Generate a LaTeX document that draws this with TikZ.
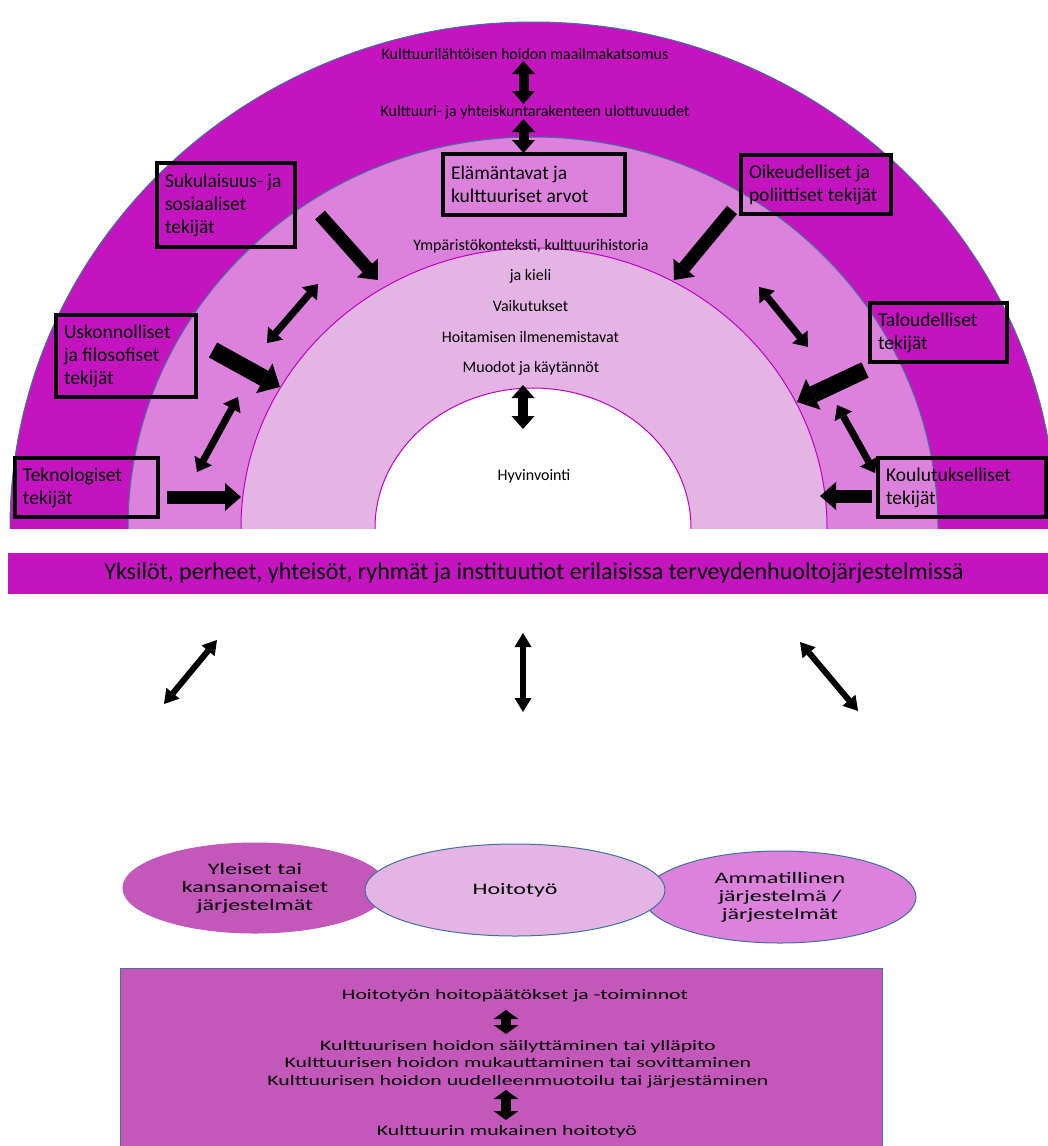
\documentclass[tikz,border=0pt]{standalone}
\usepackage{fontspec}
\setmainfont{Carlito}
\newfontfamily\widefont{Carlito}[FakeStretch=1.5]
\usetikzlibrary{arrows.meta,positioning,shapes.geometric}
\definecolor{Outer}{HTML}{C414C0}
\definecolor{Middle}{HTML}{DC82DC}
\definecolor{Inner}{HTML}{E4B5E4}
\definecolor{Plum}{HTML}{C457BA}
\definecolor{Edge}{HTML}{41719C}
\definecolor{Rim}{HTML}{BF00BF}

\begin{document}
\begin{tikzpicture}[x=1pt,y=-1pt,archtext/.style={anchor=base,inner sep=1pt,font=\fontsize{16}{19}\selectfont},factor/.style={draw=black,line width=3.5pt,align=flush left,inner xsep=8pt,font=\fontsize{19.5}{23}\selectfont},system/.style={ellipse,draw=Edge,line width=1pt,align=center,inner sep=0pt,font=\widefont\fontsize{16}{18}\selectfont},caretext/.style={anchor=base,inner sep=1pt,align=center,font=\widefont\fontsize{14.5}{17.6}\selectfont},fatarrow/.style={draw=black,line width=13pt,-{Triangle[length=16pt,width=28pt,line width=0pt]}},heavyarrow/.style={draw=black,line width=17pt,-{Triangle[length=18pt,width=34pt,line width=0pt]}},linkarrow/.style={draw=black,line width=7pt,{Triangle[length=13pt,width=20pt,line width=0pt]}-{Triangle[length=13pt,width=20pt,line width=0pt]}},stemarrow/.style={draw=black,line width=10pt,{Triangle[length=13pt,width=23pt,line width=0pt]}-{Triangle[length=13pt,width=23pt,line width=0pt]}},shortarrow/.style={draw=black,line width=10pt,{Triangle[length=9pt,width=25pt,line width=0pt]}-{Triangle[length=9pt,width=25pt,line width=0pt]}},slimarrow/.style={draw=black,line width=6pt,{Triangle[length=14pt,width=17pt,line width=0pt]}-{Triangle[length=14pt,width=17pt,line width=0pt]}}]
\useasboundingbox (0,0) rectangle (1048,1146);
\fill[white] (0,0) rectangle (1048,1146);
\begin{scope}
\clip (0,0) rectangle (1048,528);
\filldraw[fill=Outer,draw=Edge,line width=1pt] (533,528) ellipse[x radius=523,y radius=506];
\filldraw[fill=Middle,draw=Edge,line width=1pt] (533,528) ellipse[x radius=405,y radius=391];
\filldraw[fill=Inner,draw=Rim,line width=1pt] (534,528) ellipse[x radius=293,y radius=280];
\filldraw[fill=white,draw=Rim,line width=1pt] (533,528) ellipse[x radius=158,y radius=140];
\end{scope}
\node[archtext] (worldview) at (525,59) {Kulttuurilähtöisen hoidon maailmakatsomus};
\node[archtext] (dimensions) at (535,116) {Kulttuuri- ja yhteiskuntarakenteen ulottuvuudet};
\node[archtext] (context) at (531,250) {Ympäristökonteksti, kulttuurihistoria};
\node[archtext] (language) at (530.5,280) {ja kieli};
\node[archtext] (influence) at (530.5,311) {Vaikutukset};
\node[archtext] (expression) at (530.5,342) {Hoitamisen ilmenemistavat};
\node[archtext] (patterns) at (531,372) {Muodot ja käytännöt};
\node[archtext] (wellbeing) at (534,480) {Hyvinvointi};
\node[factor,text width=166pt,minimum height=61pt] (lifestyle) at (534,184.5) {Elämäntavat ja\\kulttuuriset arvot};
\node[factor,text width=122pt,minimum height=84pt] (kinship) at (226,205) {Sukulaisuus- ja\\sosiaaliset\\tekijät};
\node[factor,text width=124pt,minimum height=82pt] (religion) at (126,356) {Uskonnolliset\\ja filosofiset\\tekijät};
\node[factor,text width=127pt,minimum height=59pt] (technology) at (86.5,487.5) {Teknologiset\\tekijät};
\node[factor,text width=134pt,minimum height=59pt] (legal) at (816,184.5) {Oikeudelliset ja\\poliittiset tekijät};
\node[factor,text width=121pt,minimum height=59pt] (economic) at (938.5,332.5) {Taloudelliset\\tekijät};
\node[factor,text width=152pt,minimum height=59pt] (education) at (962,487.5) {Koulutukselliset\\tekijät};
\coordinate (viewA) at (523.5,61);
\coordinate (viewB) at (523.5,104);
\coordinate (dimA) at (523.5,119);
\coordinate (dimB) at (523.5,153);
\coordinate (wellA) at (523,385);
\coordinate (wellB) at (523,429);
\coordinate (kinA) at (320,215);
\coordinate (kinB) at (378,280);
\coordinate (relA) at (213,350);
\coordinate (relB) at (280,387);
\coordinate (techA) at (167,497);
\coordinate (techB) at (241,497);
\coordinate (leftUpA) at (267,343);
\coordinate (leftUpB) at (318,284);
\coordinate (leftLowA) at (197,472);
\coordinate (leftLowB) at (238,397);
\coordinate (legA) at (732,210);
\coordinate (legB) at (674,280);
\coordinate (rightUpA) at (759,287);
\coordinate (rightUpB) at (808,347);
\coordinate (ecoA) at (865,370);
\coordinate (ecoB) at (797,402);
\coordinate (rightLowA) at (837,405);
\coordinate (rightLowB) at (875,473);
\coordinate (eduA) at (872,496);
\coordinate (eduB) at (820,496);
\draw[stemarrow] (viewA)--(viewB);
\draw[stemarrow] (dimA)--(dimB);
\draw[stemarrow] (wellA)--(wellB);
\draw[fatarrow] (kinA)--(kinB);
\draw[heavyarrow] (relA)--(relB);
\draw[fatarrow] (techA)--(techB);
\draw[linkarrow] (leftUpA)--(leftUpB);
\draw[linkarrow] (leftLowA)--(leftLowB);
\draw[fatarrow] (legA)--(legB);
\draw[linkarrow] (rightUpA)--(rightUpB);
\draw[heavyarrow] (ecoA)--(ecoB);
\draw[linkarrow] (rightLowA)--(rightLowB);
\draw[fatarrow] (eduA)--(eduB);
\node[fill=Outer,minimum width=1052pt,minimum height=41pt,inner sep=0pt,font=\fontsize{24}{28}\selectfont] (society) at (534,573) {Yksilöt, perheet, yhteisöt, ryhmät ja instituutiot erilaisissa terveydenhuoltojärjestelmissä};
\coordinate (lowLA) at (164,704);
\coordinate (lowLB) at (217,640);
\coordinate (lowMA) at (523,633);
\coordinate (lowMB) at (523,712);
\coordinate (lowRA) at (800,642);
\coordinate (lowRB) at (858,711);
\draw[slimarrow] (lowLA)--(lowLB);
\draw[slimarrow] (lowMA)--(lowMB);
\draw[slimarrow] (lowRA)--(lowRB);
\node[system,fill=Plum,draw=Plum,minimum width=264pt,minimum height=90pt] (folk) at (255,888) {Yleiset tai\\kansanomaiset\\järjestelmät};
\node[system,fill=Middle,minimum width=272pt,minimum height=92pt] (professional) at (780,897) {Ammatillinen\\järjestelmä /\\järjestelmät};
\node[system,fill=Inner,minimum width=300pt,minimum height=92pt] (nursing) at (515,890) {Hoitotyö};
\node[fill=Plum,draw=Edge,line width=1pt,minimum width=762pt,minimum height=200pt,inner sep=0pt] (careplan) at (501,1068) {};
\node[caretext] (decisions) at (515,999) {Hoitotyön hoitopäätökset ja -toiminnot};
\node[caretext,anchor=center] (modes) at (518,1064) {Kulttuurisen hoidon säilyttäminen tai ylläpito\\Kulttuurisen hoidon mukauttaminen tai sovittaminen\\Kulttuurisen hoidon uudelleenmuotoilu tai järjestäminen};
\node[caretext] (congruent) at (507,1135) {Kulttuurin mukainen hoitotyö};
\coordinate (careA) at (506,1010);
\coordinate (careB) at (506,1034);
\coordinate (careC) at (506,1090);
\coordinate (careD) at (506,1120);
\draw[shortarrow] (careA)--(careB);
\draw[shortarrow] (careC)--(careD);
\end{tikzpicture}
\end{document}
